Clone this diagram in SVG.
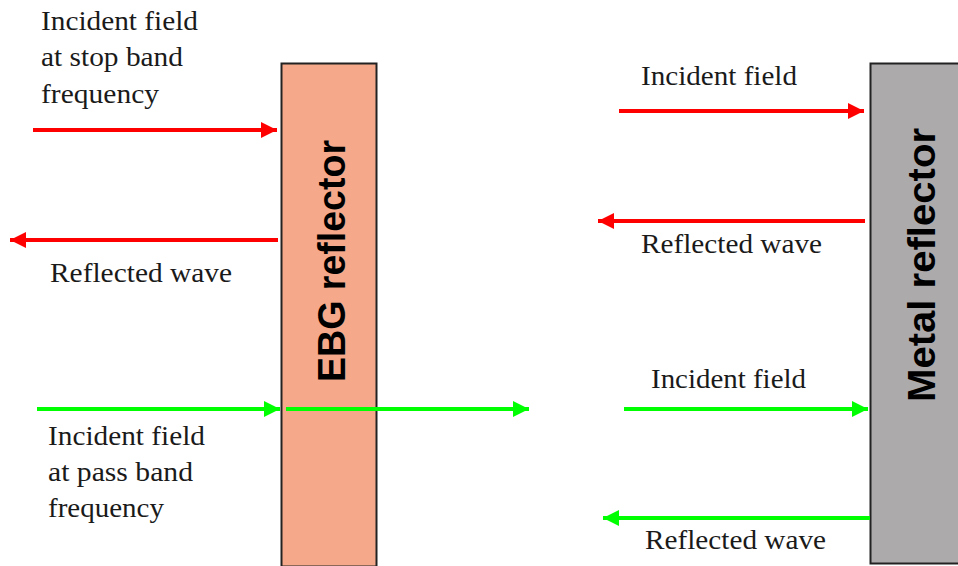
<svg xmlns="http://www.w3.org/2000/svg" width="958" height="566" viewBox="0 0 958 566">
<defs>
<style>
.lbl{font-family:"Liberation Serif","Times New Roman",serif;font-size:27px;fill:#1a1a1a}
.vt{font-family:"Liberation Sans",Arial,sans-serif;font-size:38px;font-weight:bold;fill:#000}
.r{stroke:#ff0000;stroke-width:4;fill:none}
.g{stroke:#00ff00;stroke-width:4;fill:none}
</style>
<marker id="ar" viewBox="0 0 10 10" refX="10" refY="5" markerWidth="16" markerHeight="16" markerUnits="userSpaceOnUse" orient="auto"><path d="M0,0 L10,5 L0,10 z" fill="#ff0000"/></marker>
<marker id="ag" viewBox="0 0 10 10" refX="10" refY="5" markerWidth="16" markerHeight="16" markerUnits="userSpaceOnUse" orient="auto"><path d="M0,0 L10,5 L0,10 z" fill="#00ff00"/></marker>
</defs>
<rect width="958" height="566" fill="#fff"/>
<g id="ebg">
<rect x="281.5" y="63.5" width="95" height="503" fill="#f5a98a" stroke="#222" stroke-width="2"/>
<text class="vt" transform="translate(345,382) rotate(-90)" textLength="242" lengthAdjust="spacingAndGlyphs">EBG reflector</text>
</g>
<g id="metal">
<rect x="870.5" y="63.5" width="100" height="500" fill="#adaaac" stroke="#222" stroke-width="2"/>
<text class="vt" transform="translate(935,402) rotate(-90)" textLength="274" lengthAdjust="spacingAndGlyphs">Metal reflector</text>
</g>
<g id="connectors">
<line class="r" x1="33" y1="130" x2="277" y2="130" marker-end="url(#ar)"/>
<line class="r" x1="278" y1="240" x2="10" y2="240" marker-end="url(#ar)"/>
<line class="g" x1="37" y1="409" x2="280" y2="409" marker-end="url(#ag)"/>
<line class="g" x1="286" y1="409" x2="529" y2="409" marker-end="url(#ag)"/>
<line class="r" x1="619" y1="111" x2="864" y2="111" marker-end="url(#ar)"/>
<line class="r" x1="865" y1="221" x2="598" y2="221" marker-end="url(#ar)"/>
<line class="g" x1="624" y1="409" x2="868" y2="409" marker-end="url(#ag)"/>
<line class="g" x1="870" y1="518" x2="603" y2="518" marker-end="url(#ag)"/>
</g>
<g id="labels">
<text class="lbl" x="41" y="30" textLength="157" lengthAdjust="spacingAndGlyphs">Incident field</text>
<text class="lbl" x="41" y="66" textLength="142" lengthAdjust="spacingAndGlyphs">at stop band</text>
<text class="lbl" x="41" y="103" textLength="118" lengthAdjust="spacingAndGlyphs">frequency</text>
<text class="lbl" x="50" y="282" textLength="182" lengthAdjust="spacingAndGlyphs">Reflected wave</text>
<text class="lbl" x="48" y="445" textLength="157" lengthAdjust="spacingAndGlyphs">Incident field</text>
<text class="lbl" x="48" y="481" textLength="145" lengthAdjust="spacingAndGlyphs">at pass band</text>
<text class="lbl" x="48" y="517" textLength="116" lengthAdjust="spacingAndGlyphs">frequency</text>
<text class="lbl" x="641" y="85" textLength="156" lengthAdjust="spacingAndGlyphs">Incident field</text>
<text class="lbl" x="641" y="253" textLength="181" lengthAdjust="spacingAndGlyphs">Reflected wave</text>
<text class="lbl" x="651" y="388" textLength="155" lengthAdjust="spacingAndGlyphs">Incident field</text>
<text class="lbl" x="645" y="549" textLength="181" lengthAdjust="spacingAndGlyphs">Reflected wave</text>
</g>
</svg>
